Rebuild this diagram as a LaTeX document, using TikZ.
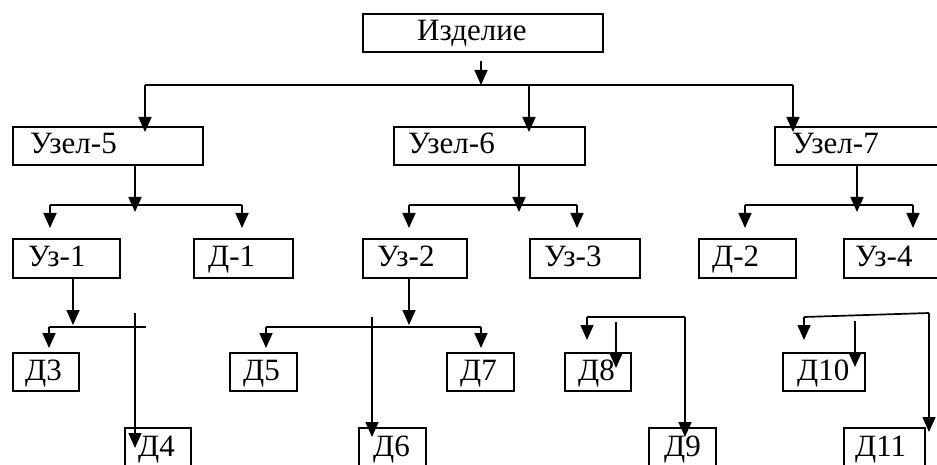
\documentclass[tikz,border=0pt]{standalone}
\usepackage{fontspec}
\setmainfont{Liberation Serif}
\usetikzlibrary{arrows.meta}
\tikzset{
  box/.style={draw=black, line width=1.7pt, inner sep=0pt, anchor=north west},
  lbl/.style={anchor=base west, inner sep=0pt, font=\fontsize{31}{31}\selectfont},
  conn/.style={line width=1.7pt},
  arr/.style={conn, -{Triangle[width=13pt,length=15pt]}}
}
% \bx{name}{x1}{y1}{x2}{y2}{text x}{baseline}{text}
\newcommand\bx[8]{%
  \node[box, minimum width=#4pt-#2pt, minimum height=#5pt-#3pt] (#1) at (#2,#3) {};
  \node[lbl] (#1t) at (#6,#7) {#8};
}
\begin{document}
\begin{tikzpicture}[x=1pt,y=-1pt]
\useasboundingbox (0,0) rectangle (937,465);
\clip (0,0) rectangle (937,465);

% boxes
\bx{root}{362}{13}{602}{51}{417}{41}{Изделие}
\bx{u5}{12}{126}{202}{164}{30}{154}{Узел-5}
\bx{u6}{393}{126}{584}{164}{408}{154}{Узел-6}
\bx{u7}{774}{126}{945}{164}{792}{154}{Узел-7}
\bx{uz1}{12}{238}{119}{277}{28}{266}{Уз-1}
\bx{d1}{193}{238}{292}{277}{208}{266}{Д-1}
\bx{uz2}{362}{238}{466}{277}{377}{266}{Уз-2}
\bx{uz3}{529}{238}{639}{277}{544}{266}{Уз-3}
\bx{d2}{698}{238}{795}{277}{712}{266}{Д-2}
\bx{uz4}{843}{238}{945}{277}{855}{266}{Уз-4}
\bx{d3}{12}{352}{78}{390}{25}{380}{Д3}
\bx{d5}{229}{352}{296}{390}{243}{380}{Д5}
\bx{d7}{446}{352}{513}{390}{460}{380}{Д7}
\bx{d8}{564}{352}{630}{390}{578}{380}{Д8}
\bx{d10}{782}{352}{864}{390}{797}{380}{Д10}
\bx{d4}{124}{427}{190}{475}{138}{456}{Д4}
\bx{d6}{358}{427}{425}{475}{373}{456}{Д6}
\bx{d9}{648}{427}{715}{475}{664}{456}{Д9}
\bx{d11}{843}{427}{924}{475}{855}{456}{Д11}

% level 1: product to assemblies
\coordinate (r0) at (481,61);
\coordinate (r1) at (481,85);
\draw[arr] (r0) -- (r1);
\coordinate (rl) at (145,85);
\coordinate (rr) at (793,85);
\draw[conn] (rl) -- (rr);
\draw[arr] (rl) -- (145,132);
\draw[arr] (529,85) -- (529,132);
\draw[arr] (rr) -- (793,132);

% level 2: assembly 5
\draw[arr] (u5.south -| 135,0) -- (135,212);
\draw[conn] (50,205) -- (242,205);
\draw[arr] (50,205) -- (50,228);
\draw[arr] (242,205) -- (242,228);
% assembly 6
\draw[arr] (u6.south -| 519,0) -- (519,212);
\draw[conn] (409,205) -- (577,205);
\draw[arr] (409,205) -- (409,228);
\draw[arr] (577,205) -- (577,228);
% assembly 7
\draw[arr] (u7.south -| 857,0) -- (857,212);
\draw[conn] (745,205) -- (913,205);
\draw[arr] (745,205) -- (745,228);
\draw[arr] (913,205) -- (913,228);

% level 3: Уз-1
\draw[arr] (uz1.south -| 73,0) -- (73,325);
\draw[conn] (49,327) -- (146,327);
\draw[arr] (49,327) -- (49,348);
\draw[arr] (135,313) -- (135,448);
% Уз-2
\draw[arr] (uz2.south -| 409,0) -- (409,325);
\draw[conn] (266,327) -- (481,327);
\draw[arr] (266,327) -- (266,348);
\draw[arr] (481,327) -- (481,348);
\draw[arr] (372,317) -- (372,437);
% Д8 / Д9 group
\draw[conn] (587,317) -- (685,317);
\draw[arr] (587,317) -- (587,340);
\draw[arr] (616,322) -- (616,368);
\draw[arr] (685,317) -- (685,437);
% Д10 / Д11 group
\draw[conn] (804,317) -- (929,313);
\draw[arr] (804,317) -- (804,340);
\draw[arr] (855,321) -- (855,367);
\draw[arr] (929,313) -- (929,432);
\end{tikzpicture}
\end{document}
